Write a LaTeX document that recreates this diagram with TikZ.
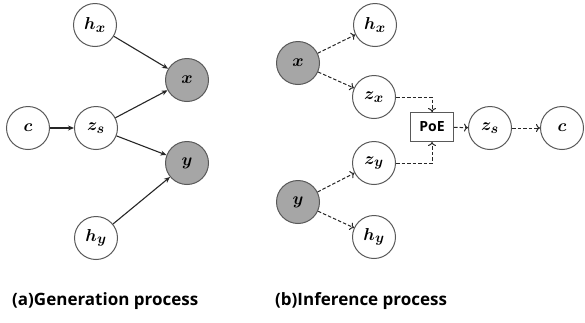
\documentclass[tikz,border=0pt]{standalone}
\usepackage{fontspec}
\setmainfont{Open Sans}
\usepackage{bm}
\usetikzlibrary{arrows.meta}
\definecolor{edge}{HTML}{595959}
\definecolor{obs}{HTML}{A6A6A6}
\begin{document}
\begin{tikzpicture}[x=1pt,y=-1pt,
  var/.style={circle,draw=edge,line width=1pt,minimum size=43pt,inner sep=0pt,font=\fontsize{19}{19}\selectfont},
  obsvar/.style={var,fill=obs},
  gen/.style={draw=black!85,line width=1.1pt,-{Stealth[length=6pt,width=5pt]}},
  inf/.style={draw=black!85,line width=1pt,dash pattern=on 3.5pt off 2pt,-{To[length=4pt,width=8pt]}},
  box/.style={draw=edge,line width=1pt,minimum width=43pt,minimum height=29pt,inner sep=0pt,font=\bfseries\fontsize{14}{14}\selectfont},
  captext/.style={font=\bfseries\fontsize{17}{17}\selectfont,anchor=base west,inner sep=0pt}]
\useasboundingbox (0,0) rectangle (585,322);
% (a) generation
\node[var] (ahx) at (95,25) {$\bm{h_x}$};
\node[obsvar] (ax) at (187,80) {$\bm{x}$};
\node[var] (ac) at (28,128) {$\bm{c}$};
\node[var] (azs) at (96,128) {$\bm{z_s}$};
\node[obsvar] (ay) at (187,163) {$\bm{y}$};
\node[var] (ahy) at (96,238) {$\bm{h_y}$};
\draw[gen] (ahx) -- (ax);
\draw[gen] (ac) -- (azs);
\draw[gen] (azs) -- (ax);
\draw[gen] (azs) -- (ay);
\draw[gen] (ahy) -- (ay);
% (b) inference
\node[var] (bhx) at (375,25) {$\bm{h_x}$};
\node[obsvar] (bx) at (298,63) {$\bm{x}$};
\node[var] (bzx) at (374,97) {$\bm{z_x}$};
\node[box] (poe) at (432,127) {PoE};
\node[var] (bzs) at (490,128) {$\bm{z_s}$};
\node[var] (bc) at (562,128) {$\bm{c}$};
\node[var] (bzy) at (374,163) {$\bm{z_y}$};
\node[obsvar] (by) at (298,202) {$\bm{y}$};
\node[var] (bhy) at (374,237) {$\bm{h_y}$};
\draw[inf] (bx) -- (bhx);
\draw[inf] (bx) -- (bzx);
\draw[inf] (by) -- (bzy);
\draw[inf] (by) -- (bhy);
\draw[inf] (bzx.east) -| (poe.north);
\draw[inf] (bzy.east) -| (poe.south);
\draw[inf] (poe) -- (bzs);
\draw[inf] (bzs) -- (bc);
% captions
\node[captext] (capa) at (12,305) {(a)Generation process};
\node[captext] (capb) at (275,305) {(b)Inference process};
\end{tikzpicture}
\end{document}
